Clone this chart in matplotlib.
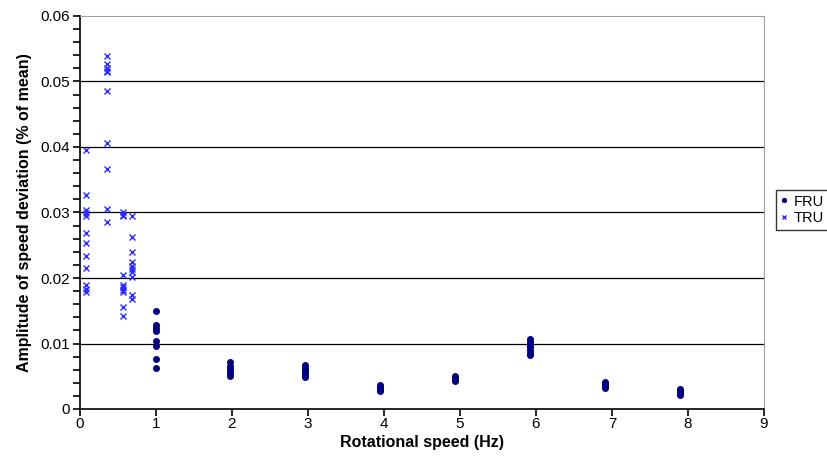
import matplotlib
matplotlib.use('Agg')
import matplotlib.pyplot as plt
from matplotlib.ticker import MultipleLocator, FuncFormatter

plt.rcParams['font.family'] = ['Liberation Sans', 'DejaVu Sans']

# FRU: (speed, amplitudes)
fru_speed = [1.0, 1.97, 2.96, 3.95, 4.93, 5.92, 6.91, 7.9]
fru_amp = [
    [0.0150, 0.0129, 0.0124, 0.0119, 0.0104, 0.0096, 0.0076, 0.0062],
    [0.0071, 0.0066, 0.0062, 0.0058, 0.0054, 0.0050],
    [0.0067, 0.0063, 0.0060, 0.0056, 0.0052, 0.0049],
    [0.0036, 0.0033, 0.0030, 0.0027],
    [0.0051, 0.0048, 0.0045, 0.0042],
    [0.0107, 0.0102, 0.0098, 0.0094, 0.0090, 0.0086, 0.0083],
    [0.0041, 0.0038, 0.0035, 0.0032],
    [0.0031, 0.0028, 0.0025, 0.0021],
]

# TRU
tru_speed = [0.08, 0.36, 0.56, 0.69]
tru_amp = [
    [0.0395, 0.0327, 0.0304, 0.0299, 0.0295, 0.0268, 0.0253, 0.0233,
     0.0215, 0.0189, 0.0183, 0.0179],
    [0.0539, 0.0526, 0.0520, 0.0516, 0.0514, 0.0486, 0.0406, 0.0366,
     0.0306, 0.0286],
    [0.0300, 0.0296, 0.0294, 0.0204, 0.0189, 0.0186, 0.0182, 0.0178,
     0.0156, 0.0142],
    [0.0295, 0.0262, 0.0239, 0.0225, 0.0219, 0.0214, 0.0209, 0.0202,
     0.0174, 0.0168],
]

fx, fy = [], []
for s, vals in zip(fru_speed, fru_amp):
    fx += [s] * len(vals)
    fy += vals
tx, ty = [], []
for s, vals in zip(tru_speed, tru_amp):
    tx += [s] * len(vals)
    ty += vals

fig = plt.figure(figsize=(8.27, 4.70), dpi=100)
ax = fig.add_axes([80/827, 61/470, 684/827, 393/470])

ax.plot(fx, fy, linestyle='none', marker='o', markersize=4,
        color='#000080', label='FRU', zorder=3)
ax.plot(tx, ty, linestyle='none', marker='x', markersize=4.5,
        markeredgewidth=1.0, color='#2a2aff', label='TRU', zorder=3)

ax.set_xlim(0, 9)
ax.set_ylim(0, 0.06)
ax.xaxis.set_major_locator(MultipleLocator(1))
ax.yaxis.set_major_locator(MultipleLocator(0.01))
ax.yaxis.set_minor_locator(MultipleLocator(0.002))
ax.yaxis.set_major_formatter(FuncFormatter(lambda v, p: '0' if abs(v) < 1e-9 else ('%.2f' % v)))

for v in [0.01, 0.02, 0.03, 0.04, 0.05]:
    ax.axhline(v, color='black', linewidth=0.9, zorder=1)

ax.spines['top'].set_color('#a0a0a0')
ax.spines['right'].set_color('#a0a0a0')
ax.spines['left'].set_linewidth(1.2)
ax.spines['bottom'].set_linewidth(1.2)

ax.tick_params(axis='both', which='both', direction='out', length=5, width=1.2,
               labelsize=11, pad=2)
ax.tick_params(axis='x', pad=0.5)

ax.set_xlabel('Rotational speed (Hz)', fontsize=11.5, fontweight='bold', labelpad=3)
ax.set_ylabel('Amplitude of speed deviation (% of mean)', fontsize=11.5, fontweight='bold', labelpad=6)

leg = fig.legend(loc='center left', bbox_to_anchor=(776/827, 260/470), frameon=True,
                 fontsize=10.5, handlelength=0.5, handletextpad=0.4, borderpad=0.3,
                 labelspacing=0.2, fancybox=False, markerscale=0.7, borderaxespad=0)
leg.get_frame().set_edgecolor('black')
leg.get_frame().set_linewidth(1.0)

fig.savefig('out.png', dpi=100)
plt.close('all')
